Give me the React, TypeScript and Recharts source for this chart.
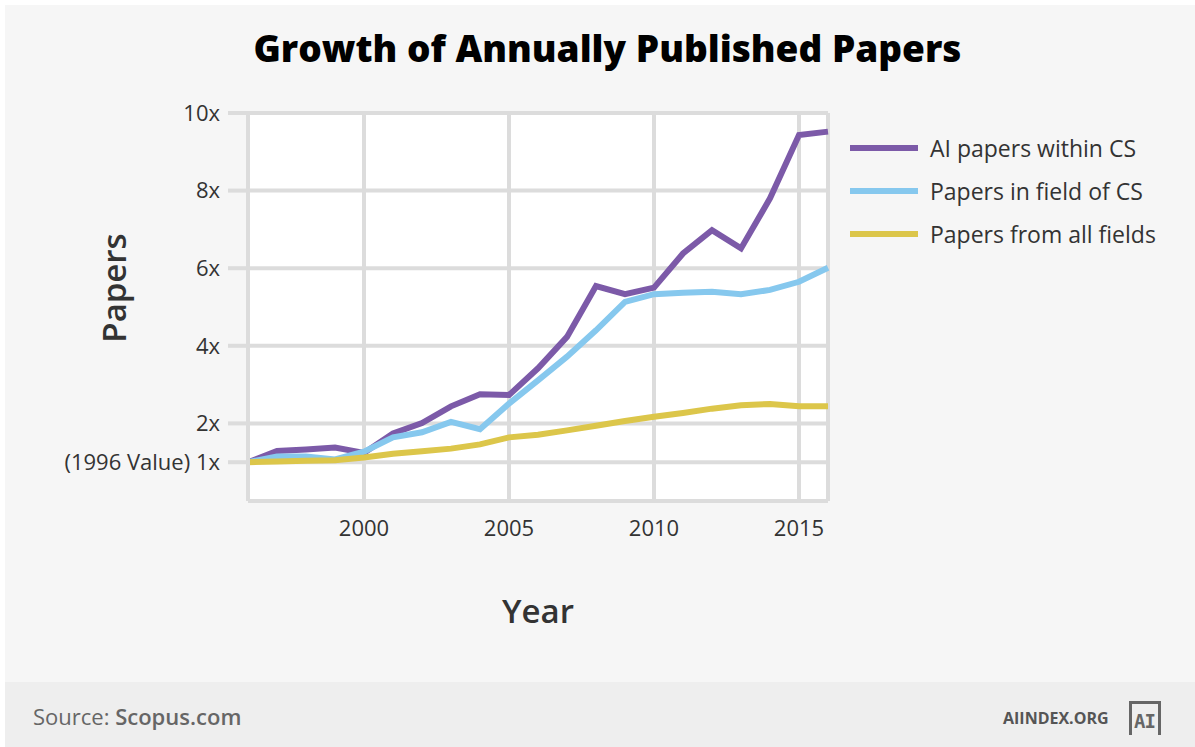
import { CartesianGrid, Line, LineChart, ReferenceLine, XAxis, YAxis } from "recharts";

// Relative growth of papers vs. 1996 baseline (Scopus).
const years = [
  1996, 1997, 1998, 1999, 2000, 2001, 2002, 2003, 2004, 2005, 2006, 2007, 2008, 2009, 2010, 2011,
  2012, 2013, 2014, 2015, 2016,
];
const aiPapers = [
  1.0, 1.29, 1.33, 1.38, 1.24, 1.74, 2.01, 2.44, 2.75, 2.73, 3.42, 4.23, 5.54, 5.33, 5.5, 6.38, 6.98,
  6.51, 7.8, 9.43, 9.52,
];
const csPapers = [
  1.0, 1.15, 1.15, 1.07, 1.27, 1.64, 1.77, 2.04, 1.85, 2.51, 3.11, 3.72, 4.4, 5.13, 5.33, 5.37, 5.39,
  5.33, 5.44, 5.65, 6.01,
];
const allPapers = [
  1.0, 1.02, 1.04, 1.05, 1.12, 1.22, 1.28, 1.35, 1.46, 1.64, 1.71, 1.82, 1.94, 2.06, 2.17, 2.27, 2.38,
  2.47, 2.5, 2.44, 2.44,
];
const xTicks = [2000, 2005, 2010, 2015];
const yTicks = [1, 2, 4, 6, 8, 10];

const data = years.map((year, i) => ({
  year,
  ai: aiPapers[i],
  cs: csPapers[i],
  all: allPapers[i],
}));

const FONT = "'Open Sans', sans-serif";
const GRID = "#dcdcdc";
const TEXT = "#333";

const series = [
  { key: "ai", name: "AI papers within CS", color: "#7c5aa8" },
  { key: "cs", name: "Papers in field of CS", color: "#86c8ee" },
  { key: "all", name: "Papers from all fields", color: "#dcc64a" },
];

const yTickFormat = (v: number) => (v === 1 ? "(1996 Value) 1x" : `${v}x`);

// y-axis title sits a bit above the plot's vertical centre, like the original
function PapersLabel() {
  return (
    <text
      x={113}
      y={288}
      transform="rotate(-90 113 288)"
      textAnchor="middle"
      dominantBaseline="central"
      style={{ fontSize: 33, fontWeight: 600, fill: TEXT, fontFamily: FONT }}
    >
      Papers
    </text>
  );
}

export default function App() {
  return (
    <div
      style={{
        position: "absolute",
        left: 0,
        top: 0,
        width: 1195,
        height: 747,
        background: "#fff",
        overflow: "hidden",
      }}
    >
      <div style={{ position: "absolute", left: 5, top: 5, right: 0, bottom: 0, background: "#f6f6f6" }} />
      <div
        style={{
          position: "absolute",
          left: 0,
          width: 1215,
          top: 22,
          textAlign: "center",
          fontFamily: "'Open Sans', sans-serif",
          fontWeight: 800,
          fontSize: 37,
          color: "#000",
        }}
      >
        Growth of Annually Published Papers
      </div>
      <div style={{ position: "absolute", left: 0, top: 0 }}>
        <LineChart
          width={1195}
          height={680}
          data={data}
          margin={{ top: 113, right: 367, bottom: 119, left: 0 }}
        >
          <CartesianGrid stroke={GRID} strokeWidth={4} fill="#fff" />
          <XAxis
            dataKey="year"
            type="number"
            domain={[1996, 2016]}
            ticks={xTicks}
            height={60}
            tickLine={false}
            axisLine={{ stroke: GRID, strokeWidth: 4 }}
            tick={{ fontSize: 22, fill: TEXT, fontFamily: FONT }}
            dy={11}
            label={{
              value: "Year",
              position: "insideBottom",
              offset: -62,
              style: { fontSize: 33, fontWeight: 600, fill: TEXT, fontFamily: FONT },
            }}
          />
          <YAxis
            type="number"
            domain={[0, 10]}
            ticks={yTicks}
            width={248}
            tickSize={20}
            tickLine={{ stroke: GRID, strokeWidth: 4 }}
            axisLine={{ stroke: GRID, strokeWidth: 4 }}
            tickFormatter={yTickFormat}
            tick={{ fontSize: 22, fill: TEXT, fontFamily: FONT, dx: -6 }}
            label={{ content: <PapersLabel /> }}
          />
          <ReferenceLine x={2016} stroke={GRID} strokeWidth={4} />
          <ReferenceLine y={10} stroke={GRID} strokeWidth={4} />
          {series.map((s) => (
            <Line
              key={s.key}
              type="linear"
              dataKey={s.key}
              name={s.name}
              stroke={s.color}
              strokeWidth={6}
              dot={false}
              isAnimationActive={false}
            />
          ))}
        </LineChart>
      </div>
      <div style={{ position: "absolute", left: 850, top: 126, fontFamily: FONT }}>
        {series.map((s) => (
          <div key={s.key} style={{ display: "flex", alignItems: "center", height: 43 }}>
            <span style={{ width: 68, height: 6, background: s.color, marginRight: 12 }} />
            <span style={{ fontSize: 23, color: TEXT }}>{s.name}</span>
          </div>
        ))}
      </div>
      <div
        style={{
          position: "absolute",
          left: 5,
          right: 0,
          top: 682,
          bottom: 0,
          background: "#eeeeee",
          fontFamily: FONT,
        }}
      >
        <div style={{ position: "absolute", left: 28, top: 19, fontSize: 22, color: "#666" }}>
          Source: <span style={{ fontWeight: 600 }}>Scopus.com</span>
        </div>
        <div
          style={{
            position: "absolute",
            left: 998,
            top: 25,
            fontSize: 16,
            fontWeight: 700,
            color: "#555",
          }}
        >
          AIINDEX.ORG
        </div>
        <div
          style={{
            position: "absolute",
            left: 1124,
            top: 19,
            width: 32,
            height: 34,
            borderTop: "3px solid #666",
            borderLeft: "3px solid #666",
            borderRight: "3px solid #666",
            boxSizing: "border-box",
          }}
        />
        <div
          style={{
            position: "absolute",
            left: 1129,
            top: 28,
            fontFamily: "'DejaVu Sans Mono', monospace",
            fontWeight: 700,
            fontSize: 19,
            color: "#666",
            letterSpacing: -1,
          }}
        >
          AI
        </div>
      </div>
    </div>
  );
}
